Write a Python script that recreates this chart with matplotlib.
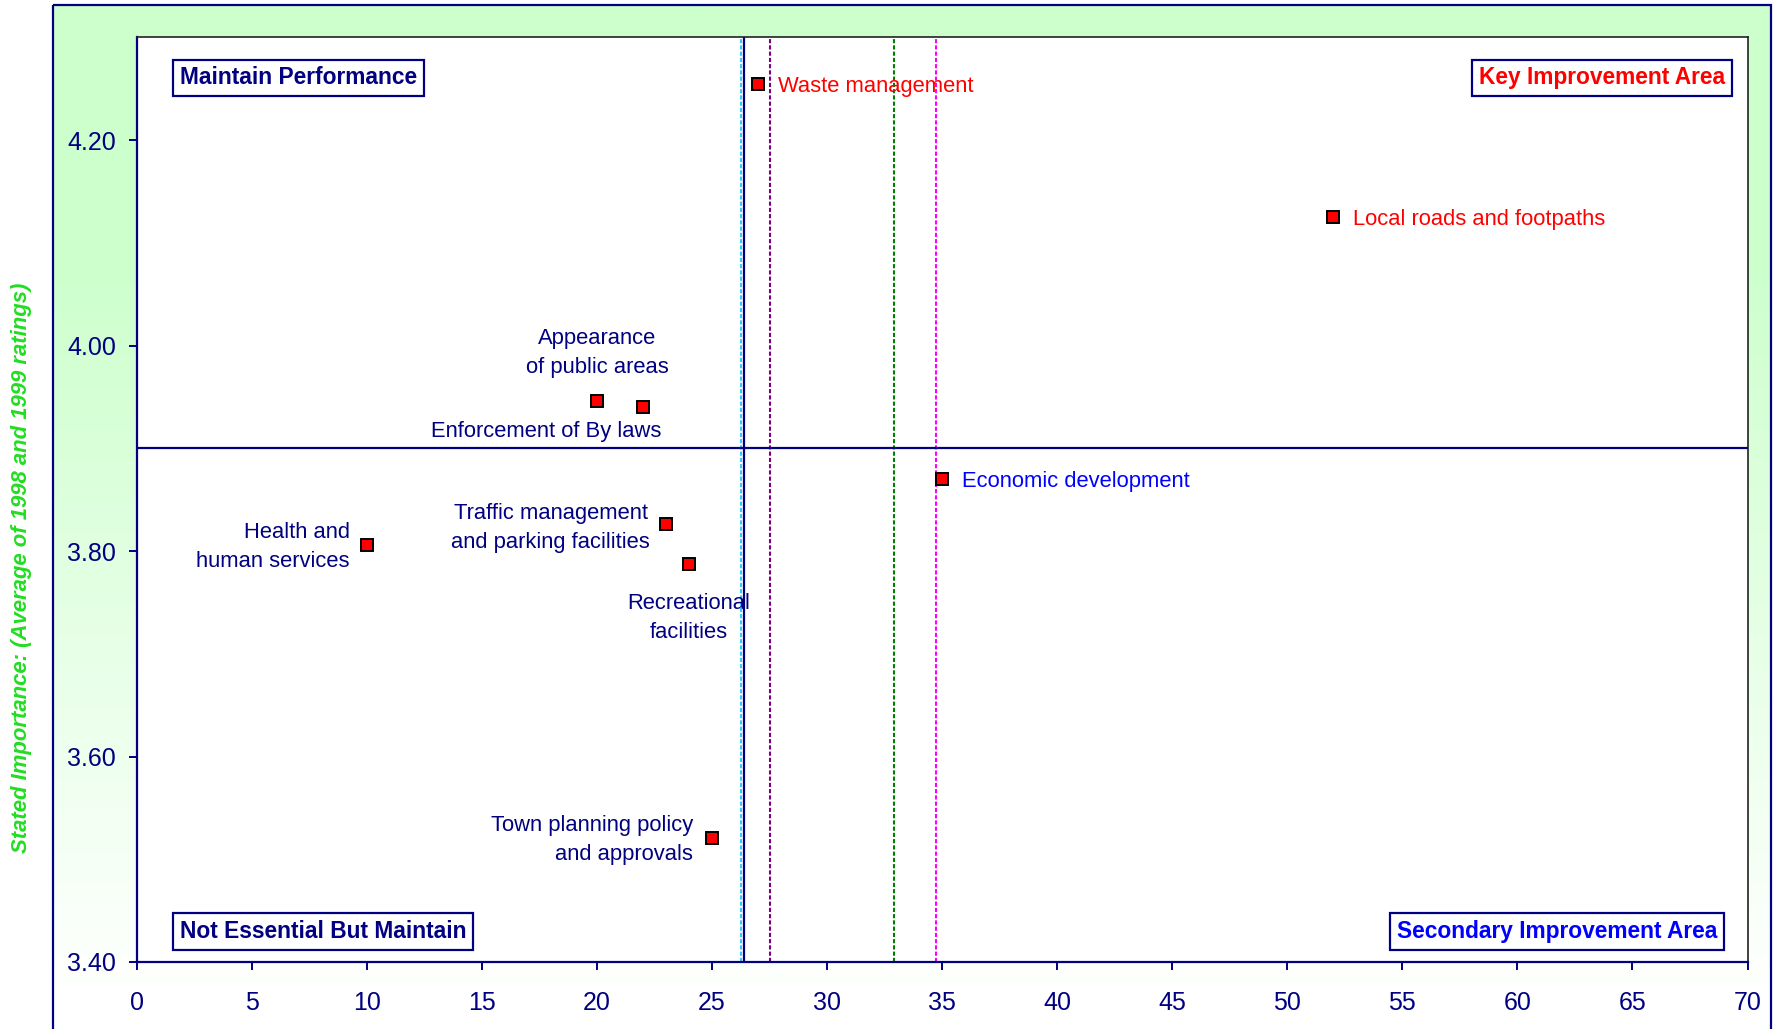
import matplotlib
matplotlib.use('Agg')
import matplotlib.pyplot as plt
import numpy as np
from matplotlib.patches import Rectangle

plt.rcParams['font.family'] = ['Liberation Sans', 'DejaVu Sans']

NAVY = '#000080'

# service areas: performance score (x) vs stated importance (y)
services = ['Waste management', 'Local roads and footpaths', 'Appearance\nof public areas',
            'Enforcement of By laws', 'Economic development',
            'Traffic management\nand parking facilities', 'Health and\nhuman services',
            'Recreational\nfacilities', 'Town planning policy\nand approvals']
performance = [27, 52, 20, 22, 35, 23, 10, 24, 25]
importance = [4.255, 4.125, 3.946, 3.940, 3.870, 3.826, 3.806, 3.787, 3.521]
label_colors = ['red', 'red', NAVY, NAVY, 'blue', NAVY, NAVY, NAVY, NAVY]

# reference lines
mean_importance = 3.90
mean_performance = 26.4
other_means = [26.25, 27.5, 32.9, 34.75]
other_colors = ['#33CCFF', '#800080', '#008000', '#FF00FF']

quadrants = ['Maintain Performance', 'Key Improvement Area',
             'Not Essential But Maintain', 'Secondary Improvement Area']
quadrant_colors = [NAVY, 'red', NAVY, 'blue']

# label placement: offset in points, horizontal alignment
label_layout = [((14, -2), 'left'), ((14, -1.7), 'left'), ((0, 34.5), 'center'),
                ((-70, -17.5), 'center'), ((14.3, -2), 'left'), ((-11.5, -2.6), 'right'),
                ((-12.2, -1.6), 'right'), ((0, -38.6), 'center'), ((-13.7, -1.6), 'right')]
multi_align = ['left', 'left', 'center', 'center', 'left', 'center', 'right', 'center', 'right']

W, H = 1773, 1029
fig = plt.figure(figsize=(W / 100, H / 100), dpi=100)
fig.patch.set_facecolor('white')

# green frame with a fade towards the bottom
bg = fig.add_axes([0, 0, 1, 1], zorder=-5)
bg.set_xlim(0, W)
bg.set_ylim(H, 0)
bg.axis('off')
ys = np.linspace(0, H, 400)
t = np.clip((ys - 250) / 750.0, 0, 1)
top_c = np.array([0xCC, 0xFF, 0xCC]) / 255.0
grad = top_c[None, :] * (1 - t[:, None]) + np.ones(3)[None, :] * t[:, None]
grad = np.repeat(grad[:, None, :], 2, axis=1)
bg.imshow(grad, extent=[53, 1771, H, 5], aspect='auto', interpolation='bilinear')
bg.add_patch(Rectangle((53, 5), 1718, H + 10, fill=False, edgecolor=NAVY, lw=1.6))

ax = fig.add_axes([136.8 / W, 1 - 962 / H, (1747.5 - 136.8) / W, (962 - 37.3) / H])
ax.set_facecolor('white')
ax.set_xlim(0, 70)
ax.set_ylim(3.40, 4.30)
ax.set_xticks(np.arange(0, 71, 5))
ax.set_yticks([3.40, 3.60, 3.80, 4.00, 4.20])
ax.set_yticklabels(['%.2f' % v for v in [3.40, 3.60, 3.80, 4.00, 4.20]])
ax.tick_params(axis='x', direction='out', length=6, width=1.4, color=NAVY,
               labelcolor=NAVY, labelsize=18, pad=15)
ax.tick_params(axis='y', direction='out', length=6, width=1.4, color=NAVY,
               labelcolor=NAVY, labelsize=18, pad=9)
for s in ['left', 'bottom']:
    ax.spines[s].set_color(NAVY)
    ax.spines[s].set_linewidth(1.6)
for s in ['top', 'right']:
    ax.spines[s].set_color('#222222')
    ax.spines[s].set_linewidth(1.2)

for xv, c in zip(other_means, other_colors):
    ax.axvline(xv, color=c, lw=1.5, ls=(0, (2, 1)), zorder=2)
ax.axvline(mean_performance, color=NAVY, lw=1.6, zorder=2)
ax.axhline(mean_importance, color=NAVY, lw=1.6, zorder=2)

ax.plot(performance, importance, ls='none', marker='s', markersize=8.5,
        markerfacecolor='red', markeredgecolor='black', markeredgewidth=1.4, zorder=5)

for name, xv, yv, c, (off, ha), ma in zip(services, performance, importance,
                                          label_colors, label_layout, multi_align):
    ax.annotate(name, (xv, yv), xytext=off, textcoords='offset points',
                ha=ha, va='center', multialignment=ma, color=c, fontsize=15.8,
                linespacing=1.55, zorder=6)

box = dict(boxstyle='square,pad=0.3', facecolor='white', edgecolor=NAVY, lw=1.6)
quad_pos = [(0.0267, 0.956, 'left'), (0.9862, 0.956, 'right'),
            (0.0267, 0.0328, 'left'), (0.9810, 0.0328, 'right')]
for q, c, (qx, qy, ha) in zip(quadrants, quadrant_colors, quad_pos):
    ax.text(qx, qy, q, transform=ax.transAxes, ha=ha, va='center', color=c,
            fontsize=16.4, fontweight='bold', bbox=box, zorder=7)

fig.text(22 / W, 1 - 568 / H, 'Stated Importance: (Average of 1998 and 1999 ratings)',
         rotation=90, ha='center', va='center', color='#22DD22', fontsize=15.9,
         fontweight='bold', fontstyle='italic')

fig.savefig('out.png', dpi=100)
